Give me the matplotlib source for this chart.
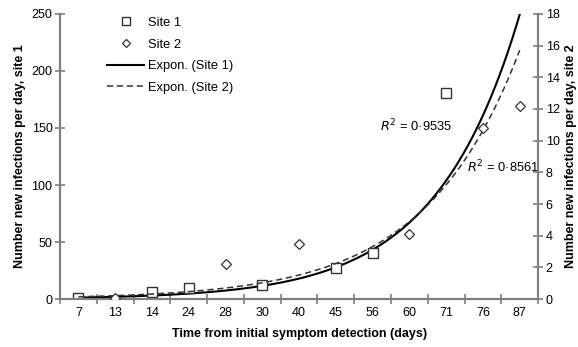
import matplotlib
matplotlib.use('Agg')
import matplotlib.pyplot as plt
import numpy as np

plt.rcParams['font.family'] = ['Liberation Sans', 'DejaVu Sans']

GRAY = '#7f7f7f'

# category axis (days)
days = ['7', '13', '14', '24', '28', '30', '40', '45', '56', '60', '71', '76', '87']

# site 1 (left axis)
site1_days = ['7', '14', '24', '30', '45', '56', '71']
site1_vals = [1, 6, 10, 12, 27, 40, 181]

# site 2 (right axis)
site2_days = ['13', '28', '40', '60', '76', '87']
site2_vals = [0.1, 2.2, 3.5, 4.1, 10.8, 12.2]

# exponential trendlines: y = a * exp(b * i), i = 1..13
fit1_a, fit1_b = 0.84, 0.438
fit2_a, fit2_b = 0.10, 0.389
r2_site1 = '0·9535'
r2_site2 = '0·8561'

pos = {d: i for i, d in enumerate(days)}
x1 = [pos[d] for d in site1_days]
x2 = [pos[d] for d in site2_days]

fig = plt.figure(figsize=(5.78, 3.47), dpi=100)
ax = fig.add_axes([0.104, 0.138, 0.827, 0.822])
ax2 = ax.twinx()

xs = np.linspace(0, 12, 300)
l1, = ax.plot(xs, fit1_a * np.exp(fit1_b * (xs + 1)), color='black', lw=1.5,
              label='Expon. (Site 1)', zorder=3)
l2, = ax2.plot(xs, fit2_a * np.exp(fit2_b * (xs + 1)), color='#333333', lw=1.1,
               ls=(0, (4, 2.5)), label='Expon. (Site 2)', zorder=3)
s1, = ax.plot(x1, site1_vals, ls='none', marker='s', ms=6.8, mfc='white',
              mec='#333333', mew=1.0, label='Site 1', zorder=4)
s2, = ax2.plot(x2, site2_vals, ls='none', marker='D', ms=5.5, mfc='white',
               mec='#333333', mew=0.9, label='Site 2', zorder=4)

ax.set_xlim(-0.5, 12.5)
ax.set_ylim(0, 250)
ax2.set_ylim(0, 18)
ax.set_yticks(range(0, 251, 50))
ax2.set_yticks(range(0, 19, 2))

ax.set_xticks(range(len(days)))
ax.set_xticklabels(days)
ax.set_xticks(np.arange(-0.5, 12.6, 1), minor=True)
ax.tick_params(axis='x', which='major', length=0, pad=6)
ax.tick_params(axis='x', which='minor', direction='inout', length=7,
               color=GRAY, width=1.2)

for a in (ax, ax2):
    a.spines['top'].set_visible(False)
    for s in ('left', 'right', 'bottom'):
        a.spines[s].set_color(GRAY)
        a.spines[s].set_linewidth(1.5)
    a.tick_params(axis='y', direction='inout', length=7, color=GRAY, width=1.2,
                  labelsize=9, pad=2)
ax.tick_params(axis='x', labelsize=9)

ax.set_xlabel('Time from initial symptom detection (days)', fontsize=9,
              fontweight='bold', labelpad=6)
ax.set_ylabel('Number new infections per day, site 1', fontsize=9,
              fontweight='bold', labelpad=4)
ax2.set_ylabel('Number new infections per day, site 2', fontsize=9,
               fontweight='bold', labelpad=4)

ax.text(8.2, 152, '$R^2$ = ' + r2_site1, fontsize=9.3, ha='left', va='center')
ax.text(10.57, 116, '$R^2$ = ' + r2_site2, fontsize=9.3, ha='left', va='center')

ax.legend(handles=[s1, s2, l1, l2], loc='upper left',
          bbox_to_anchor=(0.098, 0.99), frameon=False, fontsize=9.3,
          borderpad=0, borderaxespad=0, markerscale=0.75,
          handlelength=2.9, handletextpad=0.3, labelspacing=0.75)

fig.savefig('out.png', dpi=100, facecolor='white')
